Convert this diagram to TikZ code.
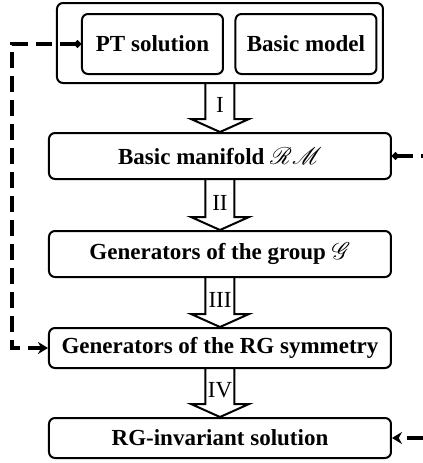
\documentclass[tikz,border=0pt]{standalone}
\usepackage{fontspec}
\usepackage{mathrsfs}
\setmainfont{Liberation Serif}
\usetikzlibrary{calc,arrows.meta}

\tikzset{
  box/.style={draw, rounded corners=3pt, line width=1pt, inner sep=0pt,
    minimum width=171pt, minimum height=23pt,
    font=\fontsize{11.5}{14}\selectfont\bfseries},
  inbox/.style={box, minimum width=70.5pt, minimum height=30pt},
  hollow/.style={draw, line width=1pt, line join=miter},
  link/.style={line width=1.7pt, dash pattern=on 8pt off 4pt},
}

% big open arrow from one box down to the next
\newcommand{\hollowarrow}[3]{%
  \draw[hollow] ($(#1.south)+(-14.5,0)$) -- ($(#2.north)+(-14.5,-13)$)
    -- ++(-14.5,0) -- (#2.north) -- ++(29,-13) -- ++(-14.5,0)
    -- ($(#1.south)+(14.5,0)$);
  \node at ($(#2.north)+(0,-27)$) {#3};
}

\begin{document}
\begin{tikzpicture}[x=0.5pt, y=-0.5pt, font=\fontsize{11.5}{14}\selectfont]
  \useasboundingbox (0,0) rectangle (423,463);

  \node[box, minimum width=163pt, minimum height=40pt] (top) at (220,43) {};
  \node[inbox] (pt) at (152.5,44) {PT solution};
  \node[inbox] (model) at (306,44) {Basic model};

  \node[box] (man) at (220,156) {Basic manifold $\mathscr{RM}$};
  \node[box] (grp) at (220,254) {Generators of the group $\mathscr{G}$};
  \node[box, minimum height=20pt] (rgsym) at (220,348) {Generators of the RG symmetry};
  \node[box, minimum height=20pt] (inv) at (220,438) {RG-invariant solution};

  \hollowarrow{top}{man}{I}
  \hollowarrow{man}{grp}{II}
  \hollowarrow{grp}{rgsym}{III}
  \hollowarrow{rgsym}{inv}{IV}

  \coordinate (lft) at (12,200);
  \coordinate (r1) at (423,156);
  \coordinate (r2) at (423,438);

  \draw[link, {Circle[length=3.5pt]}-{Stealth[length=5pt,width=6pt]}]
    (pt.west) -| (lft) |- (rgsym.west);
  \draw[link, {Circle[length=3.5pt]}-] (man.east) -- (r1);
  \draw[link, -{Stealth[length=5pt,width=6pt]}] (r2) -- (inv.east);
\end{tikzpicture}
\end{document}
